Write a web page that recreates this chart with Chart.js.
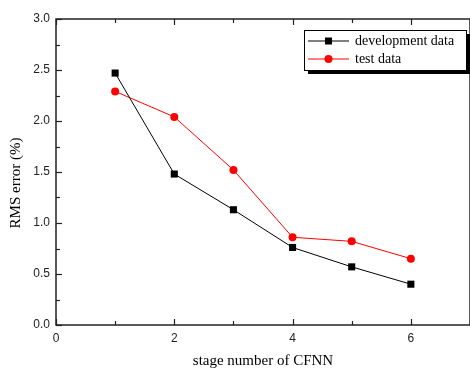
<!DOCTYPE html>
<html>
<head>
<meta charset="utf-8">
<script src="https://cdn.jsdelivr.net/npm/chart.js@4/dist/chart.umd.min.js"></script>
<style>
  html, body { margin: 0; padding: 0; overflow: hidden; background: #fff; }
  #wrap { width: 475px; height: 368px; }
</style>
</head>
<body>
<div id="wrap"><canvas id="chart" width="475" height="368"></canvas></div>
<script>
const stages = [1, 2, 3, 4, 5, 6];
const devData = [2.47, 1.48, 1.13, 0.76, 0.57, 0.40];
const testData = [2.29, 2.04, 1.52, 0.86, 0.82, 0.65];
const seriesNames = ['development data', 'test data'];
const yTitle = 'RMS error (%)';
const xTitle = 'stage number of CFNN';

const toPoints = (vals) => stages.map((s, i) => ({ x: s, y: vals[i] }));
const serif = '"Liberation Serif", "Times New Roman", serif';

// axes frame with inward ticks, y title, and the boxed legend with a drop shadow
const frame = {
  id: 'frame',
  afterDraw(chart) {
    const ctx = chart.ctx;
    const a = chart.chartArea;
    const xs = chart.scales.x, ys = chart.scales.y;
    ctx.save();
    ctx.strokeStyle = '#222';
    ctx.lineWidth = 1.5;
    ctx.strokeRect(a.left, a.top, a.right - a.left, a.bottom - a.top);

    ctx.lineWidth = 1.2;
    for (let v = 0; v <= 7; v++) {
      const px = Math.round(xs.getPixelForValue(v)) + 0.5;
      const len = v % 2 === 0 ? 6 : 4;
      ctx.beginPath();
      ctx.moveTo(px, a.bottom); ctx.lineTo(px, a.bottom - len);
      ctx.moveTo(px, a.top); ctx.lineTo(px, a.top + len);
      ctx.stroke();
    }
    for (let v = 0; v <= 3; v += 0.25) {
      const py = Math.round(ys.getPixelForValue(v)) + 0.5;
      const len = (v * 2) % 1 === 0 ? 6 : 4;
      ctx.beginPath();
      ctx.moveTo(a.left, py); ctx.lineTo(a.left + len, py);
      ctx.stroke();
    }

    // y title (sits a bit below the axis middle, as in the original)
    ctx.save();
    ctx.translate(16, 183);
    ctx.rotate(-Math.PI / 2);
    ctx.font = '15px ' + serif;
    ctx.fillStyle = '#000';
    ctx.textAlign = 'center';
    ctx.textBaseline = 'middle';
    ctx.fillText(yTitle, 0, 0);
    ctx.restore();

    // legend
    const lx = 304, ly = 30, lw = 162, lh = 40;
    ctx.fillStyle = '#000';
    ctx.fillRect(lx + 4, ly + 4, lw, lh);
    ctx.fillStyle = '#fff';
    ctx.fillRect(lx, ly, lw, lh);
    ctx.lineWidth = 1;
    ctx.strokeStyle = '#000';
    ctx.strokeRect(lx + 0.5, ly + 0.5, lw, lh);

    ctx.font = '14px ' + serif;
    ctx.textBaseline = 'middle';
    chart.data.datasets.forEach((ds, i) => {
      const y = ly + 11 + i * 18;
      ctx.strokeStyle = ds.borderColor;
      ctx.beginPath();
      ctx.moveTo(lx + 4, y); ctx.lineTo(lx + 45, y);
      ctx.stroke();
      ctx.fillStyle = ds.backgroundColor;
      if (ds.pointStyle === 'rect') {
        ctx.fillRect(lx + 21, y - 3.5, 7, 7);
      } else {
        ctx.beginPath();
        ctx.arc(lx + 24.5, y, 4, 0, Math.PI * 2);
        ctx.fill();
      }
      ctx.fillStyle = '#000';
      ctx.fillText(ds.label, lx + 51, y);
    });
    ctx.restore();
  }
};

new Chart(document.getElementById('chart'), {
  type: 'line',
  data: {
    datasets: [
      {
        label: seriesNames[0],
        data: toPoints(devData),
        borderColor: '#000',
        backgroundColor: '#000',
        borderWidth: 1,
        pointStyle: 'rect',
        pointRadius: 5,
        pointBorderWidth: 0
      },
      {
        label: seriesNames[1],
        data: toPoints(testData),
        borderColor: '#ff0000',
        backgroundColor: '#ff0000',
        borderWidth: 1,
        pointStyle: 'circle',
        pointRadius: 4,
        pointBorderWidth: 0
      }
    ]
  },
  options: {
    responsive: false,
    animation: false,
    layout: { padding: { left: 0, top: 19, right: 3, bottom: 0 } },
    plugins: { legend: { display: false }, tooltip: { enabled: false } },
    scales: {
      x: {
        type: 'linear',
        min: 0, max: 7,
        afterFit: (s) => { s.height = 43; },
        afterBuildTicks: (s) => { s.ticks = s.ticks.filter(t => t.value % 2 === 0); },
        grid: { display: false, drawTicks: false },
        border: { display: false },
        ticks: {
          stepSize: 2, padding: 6, color: '#222',
          font: { family: '"Liberation Sans", Arial, sans-serif', size: 12 }
        },
        title: {
          display: true, text: xTitle, color: '#000',
          font: { family: serif, size: 15 },
          padding: { top: 0, bottom: -2 }
        }
      },
      y: {
        min: 0, max: 3,
        afterFit: (s) => { s.width = 56; },
        grid: { display: false, drawTicks: false },
        border: { display: false },
        ticks: {
          stepSize: 0.5, padding: 6, color: '#222',
          font: { family: '"Liberation Sans", Arial, sans-serif', size: 12 },
          callback: (v) => v.toFixed(1)
        },
        title: { display: false }
      }
    }
  },
  plugins: [frame]
});
</script>
</body>
</html>
